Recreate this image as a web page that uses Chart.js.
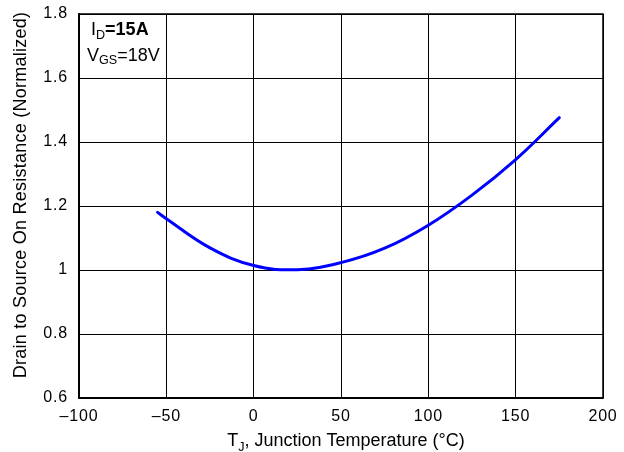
<!DOCTYPE html>
<html>
<head>
<meta charset="utf-8">
<script src="https://cdn.jsdelivr.net/npm/chart.js@4/dist/chart.umd.min.js"></script>
<style>
  html, body { margin: 0; padding: 0; background: #fff; }
  #wrap { width: 624px; height: 452px; }
</style>
</head>
<body>
<div id="wrap"><canvas id="chartRdsTemp" width="624" height="452"></canvas></div>
<script>
// Normalized on-resistance vs junction temperature
const temperaturas = [-55, -50, -25, 0, 25, 50, 75, 100, 125, 150, 175];
const resistencia = [1.18, 1.16, 1.069, 1.014, 1.001, 1.023, 1.068, 1.14, 1.234, 1.345, 1.476];
const ticksX = [-100, -50, 0, 50, 100, 150, 200];
const ticksY = [0.6, 0.8, 1.0, 1.2, 1.4, 1.6, 1.8];

const fonte = '"Liberation Sans", Arial, Helvetica, sans-serif';

function rotuloY(valor) {
    return valor === 1 ? '1' : valor.toFixed(1);
}

function rotuloX(valor) {
    return valor < 0 ? '\u2013' + Math.abs(valor) : String(valor);
}

// partes: [texto, subscrito, negrito]
function textoComIndice(ctx, x, y, partes, tamanho, desvio) {
    let cx = x;
    partes.forEach(p => {
        const sub = p[1];
        const sz = sub ? tamanho * 0.7 : tamanho;
        ctx.font = (p[2] ? 'bold ' : '') + sz + 'px ' + fonte;
        ctx.fillText(p[0], cx, sub ? y + desvio : y);
        cx += ctx.measureText(p[0]).width;
    });
    return cx - x;
}

function larguraTexto(ctx, partes, tamanho) {
    let w = 0;
    partes.forEach(p => {
        const sz = p[1] ? tamanho * 0.7 : tamanho;
        ctx.font = (p[2] ? 'bold ' : '') + sz + 'px ' + fonte;
        w += ctx.measureText(p[0]).width;
    });
    return w;
}

const espacamento = {
    id: 'espacamento',
    beforeDraw(chart) {
        chart.ctx.letterSpacing = '0.8px';
    }
};

const anotacoes = {
    id: 'anotacoes',
    afterDraw(chart) {
        const ctx = chart.ctx;
        const area = chart.chartArea;
        ctx.save();
        ctx.letterSpacing = '0px';
        ctx.fillStyle = '#000';
        ctx.textAlign = 'left';
        ctx.textBaseline = 'alphabetic';
        textoComIndice(ctx, area.left + 12, 35, [['I', false, false], ['D', true, false], ['=15A', false, true]], 18, 4);
        textoComIndice(ctx, area.left + 8, 61, [['V', false, false], ['GS', true, false], ['=18V', false, false]], 18, 3);

        // titulo do eixo x com subscrito
        const partes = [['T', false, false], ['J', true, false], [', Junction Temperature (\u00B0C)', false, false]];
        const w = larguraTexto(ctx, partes, 18);
        textoComIndice(ctx, 346 - w / 2, 446, partes, 18, 5);

        // titulo do eixo y
        ctx.letterSpacing = '0.25px';
        ctx.translate(21, 195);
        ctx.rotate(-Math.PI / 2);
        ctx.font = '18px ' + fonte;
        ctx.textAlign = 'center';
        ctx.textBaseline = 'middle';
        ctx.fillText('Drain to Source On Resistance (Normalized)', 0, 0);
        ctx.restore();
    }
};

const moldura = {
    id: 'moldura',
    afterDatasetsDraw(chart) {
        const a = chart.chartArea;
        const ctx = chart.ctx;
        ctx.save();
        ctx.strokeStyle = '#000';
        ctx.lineWidth = 1.5;
        ctx.strokeRect(a.left, a.top, a.right - a.left, a.bottom - a.top);
        ctx.restore();
    }
};

function criarGrafico() {
    const canvas = document.getElementById('chartRdsTemp');
    if (!canvas) return;

    try {
        new Chart(canvas, {
            type: 'line',
            data: {
                datasets: [{
                    data: temperaturas.map((t, i) => ({ x: t, y: resistencia[i] })),
                    borderColor: '#0000ff',
                    borderWidth: 3,
                    borderCapStyle: 'round',
                    pointRadius: 0,
                    fill: false,
                    tension: 0.4
                }]
            },
            options: {
                responsive: false,
                animation: false,
                layout: { padding: { left: 0, right: 21, top: 14, bottom: 0 } },
                plugins: {
                    legend: { display: false },
                    tooltip: { enabled: false }
                },
                scales: {
                    x: {
                        type: 'linear',
                        min: -100,
                        max: 200,
                        afterBuildTicks: s => { s.ticks = ticksX.map(v => ({ value: v })); },
                        afterFit: s => { s.height = 54; s.paddingLeft = 0; s.paddingRight = 0; },
                        grid: { color: '#000', lineWidth: 1, drawTicks: false },
                        border: { color: '#000', width: 1.5 },
                        ticks: {
                            color: '#000',
                            padding: 9,
                            maxRotation: 0,
                            font: { family: fonte, size: 16 },
                            callback: v => rotuloX(v)
                        }
                    },
                    y: {
                        min: 0.6,
                        max: 1.8,
                        afterBuildTicks: s => { s.ticks = ticksY.map(v => ({ value: v })); },
                        afterFit: s => { s.width = 79; s.paddingTop = 0; s.paddingBottom = 0; },
                        grid: { color: '#000', lineWidth: 1, drawTicks: false },
                        border: { color: '#000', width: 1.5 },
                        ticks: {
                            color: '#000',
                            padding: 11,
                            font: { family: fonte, size: 16 },
                            callback: v => rotuloY(v)
                        }
                    }
                }
            },
            plugins: [espacamento, anotacoes, moldura]
        });
    } catch (error) {
        console.error('Erro no gráfico:', error);
    }
}

criarGrafico();
</script>
</body>
</html>
